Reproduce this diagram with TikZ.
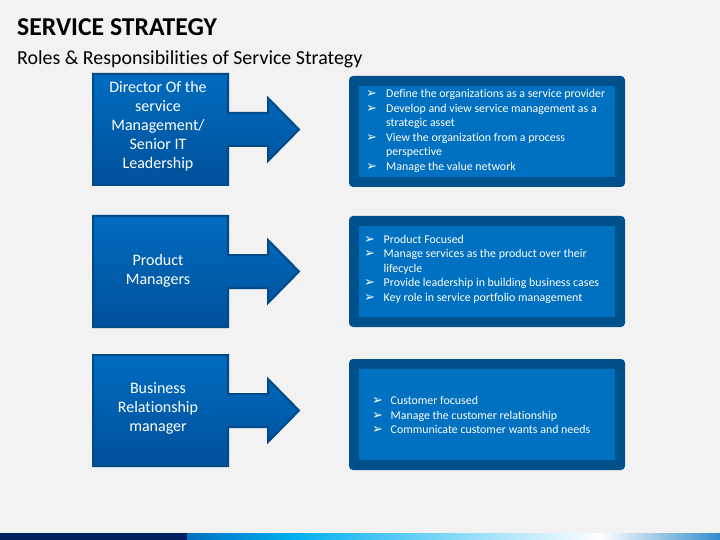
\documentclass[tikz,border=0pt]{standalone}
\usepackage{fontspec}
\setmainfont[Ligatures=NoCommon]{Carlito}
\newfontfamily\dejavu{DejaVu Sans}

\definecolor{slidegray}{HTML}{F2F2F2}
\definecolor{frameblue}{HTML}{00508C}
\definecolor{innerblue}{HTML}{0070C0}
\definecolor{rolelight}{HTML}{006CC0}
\definecolor{roledark}{HTML}{00509A}
\definecolor{roleedge}{HTML}{004A88}
\definecolor{navy}{HTML}{002060}
\definecolor{cyanblue}{HTML}{00B0F0}

\newcommand{\pointer}{{\dejavu\fontsize{13}{13}\selectfont ➢}}

\tikzset{
  role/.style={draw=roleedge, line width=2pt, top color=rolelight, bottom color=roledark},
  roletext/.style={text=white, align=center, font=\fontsize{16}{19}\selectfont},
  frame/.style={fill=frameblue, rounded corners=4pt},
  duties/.style={anchor=west, inner sep=0pt, text=white, font=\fontsize{11.9}{14.5}\selectfont}
}

\begin{document}
\begin{tikzpicture}[x=1pt, y=-1pt]
\useasboundingbox (0,0) rectangle (720,540);
\fill[slidegray] (0,0) rectangle (720,540);

% titles
\node[anchor=base west, inner sep=0pt, font=\fontsize{25.7}{30}\selectfont\bfseries] (title) at (17,36) {SERVICE STRATEGY};
\node[anchor=base west, inner sep=0pt, font=\fontsize{19.9}{23}\selectfont] (subtitle) at (17,65) {Roles \& Responsibilities of Service Strategy};

% roles
\draw[role] (93,74) -- ++(135,0) -- ++(0,39) -- ++(40,0) -- ++(0,-15) -- ++(31,31.5) -- ++(-31,31.5) -- ++(0,-15) -- ++(-40,0) -- ++(0,39) -- ++(-135,0) -- cycle;
\node[roletext] (director) at (158,126.5) {Director Of the\\service\\Management/\\Senior IT\\Leadership};

\draw[role] (93,216) -- ++(135,0) -- ++(0,39) -- ++(40,0) -- ++(0,-15) -- ++(31,31.5) -- ++(-31,31.5) -- ++(0,-15) -- ++(-40,0) -- ++(0,39) -- ++(-135,0) -- cycle;
\node[roletext] (product) at (158,270.5) {Product\\Managers};

\draw[role] (93,355) -- ++(135,0) -- ++(0,39) -- ++(40,0) -- ++(0,-15) -- ++(31,31.5) -- ++(-31,31.5) -- ++(0,-15) -- ++(-40,0) -- ++(0,39) -- ++(-135,0) -- cycle;
\node[roletext] (business) at (158,408) {Business\\Relationship\\manager};

% responsibilities
\fill[frame] (349,76) rectangle (625,187);
\fill[innerblue] (359,86) rectangle (615,177);
\node[duties] (directorduties) at (366,131) {\begin{tabular}{@{}p{20pt}@{}l@{}}
\pointer & Define the organizations as a service provider\\
\pointer & Develop and view service management as a\\
 & strategic asset\\
\pointer & View the organization from a process\\
 & perspective\\
\pointer & Manage the value network
\end{tabular}};

\fill[frame] (349,216) rectangle (625,327);
\fill[innerblue] (359,226) rectangle (615,317);
\node[duties] (productduties) at (364,269.5) {\begin{tabular}{@{}p{19.5pt}@{}l@{}}
\pointer & Product Focused\\
\pointer & Manage services as the product over their\\
 & lifecycle\\
\pointer & Provide leadership in building business cases\\
\pointer & Key role in service portfolio management
\end{tabular}};

\fill[frame] (349,359) rectangle (625,470);
\fill[innerblue] (359,369) rectangle (615,460);
\node[duties] (businessduties) at (372,416.5) {\begin{tabular}{@{}p{18.5pt}@{}l@{}}
\pointer & Customer focused\\
\pointer & Manage the customer relationship\\
\pointer & Communicate customer wants and needs
\end{tabular}};

% bottom bar
\fill[navy] (0,533) rectangle (187,540);
\shade[left color=innerblue, right color=cyanblue] (187,533) rectangle (293,540);
\shade[left color=cyanblue, right color=white] (293,533) rectangle (600,540);
\shade[left color=white, right color=innerblue!80] (600,533) rectangle (720,540);

\end{tikzpicture}
\end{document}
